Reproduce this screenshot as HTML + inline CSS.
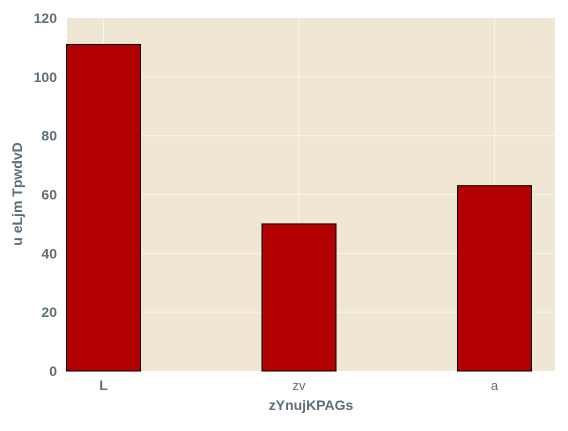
<!DOCTYPE html>
<html><head><meta charset="utf-8"><style>
html,body{margin:0;padding:0;background:#fff;}
svg text{font-family:"Liberation Sans Narrow","Liberation Sans",sans-serif;fill:#5e6e78;}
</style></head><body>
<svg id="chart" width="568" height="426" xmlns="http://www.w3.org/2000/svg">
<rect x="67" y="18" width="488" height="353" fill="#efe6d4"/>
<g id="grid"></g>
<g id="bars"></g>
<g id="ticks"></g>
<text x="311" y="410" text-anchor="middle" font-size="14" font-weight="bold">zYnujKPAGs</text>
<text transform="translate(22,194) rotate(-90)" text-anchor="middle" font-size="14" font-weight="bold">u eLjm  TpwdvD</text>
</svg>
<script>
const categories = ["L", "zv", "a"];
const values = [111, 50, 63];
const yTicks = [0, 20, 40, 60, 80, 100, 120];
const ns = "http://www.w3.org/2000/svg";
const plotLeft = 67, plotRight = 555, plotTop = 18, plotBottom = 371;
const yMax = 120;
function yScale(v){ return plotBottom - (v / yMax) * (plotBottom - plotTop); }
function xScale(i){ return 103.5 + i * 195.5; }
const barW = 74;
function mk(tag, attrs, parent){
  const el = document.createElementNS(ns, tag);
  for (const k in attrs) el.setAttribute(k, attrs[k]);
  document.getElementById(parent).appendChild(el);
  return el;
}
yTicks.forEach(t => {
  const y = yScale(t);
  if (t > 0 && t < yMax) {
    const g = mk("line", {x1:plotLeft, x2:plotRight, y1:y, y2:y, stroke:"#fbf5e6", "stroke-width":1}, "grid");
    
    
  }
  const tx = mk("text", {x:57, y:y+5, "text-anchor":"end", "font-size":"14", "font-weight":"bold"}, "ticks");
  tx.textContent = t;
  
  
});
categories.forEach((c, i) => {
  const x = xScale(i);
  const g = mk("line", {x1:x, x2:x, y1:plotTop, y2:plotBottom, stroke:"#fbf5e6", "stroke-width":1}, "grid");
  
  
  const b = mk("rect", {x:x - barW/2, y:yScale(values[i]), width:barW, height:plotBottom - yScale(values[i]), fill:"#b30000", stroke:"#000", "stroke-width":1}, "bars");
  
  
  const bold = i === 0;
  const tx = mk("text", {x:x, y:390, "text-anchor":"middle", "font-size": bold ? "14" : "13", "font-weight": bold ? "bold" : "normal"}, "ticks");
  tx.textContent = c;
  if (!bold) tx.setAttribute("fill", "#7b8790");
  
  
});
</script>
</body></html>
